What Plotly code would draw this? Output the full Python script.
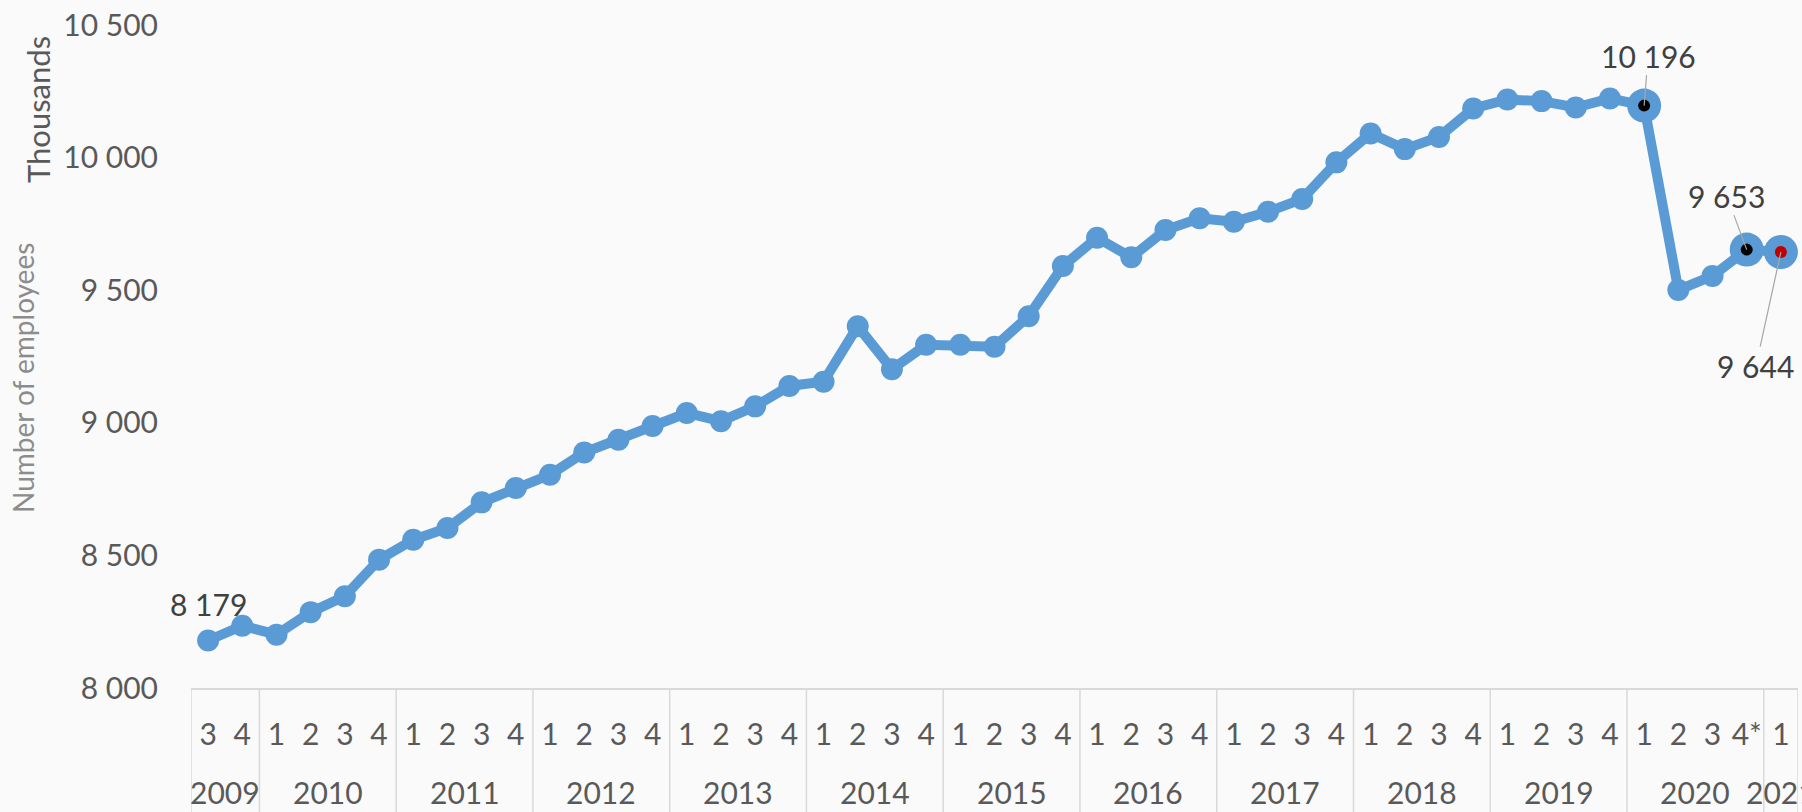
import plotly.graph_objects as go

# ---- data ----
quarter_labels = ["3", "4",
                  "1", "2", "3", "4",   # 2010
                  "1", "2", "3", "4",   # 2011
                  "1", "2", "3", "4",   # 2012
                  "1", "2", "3", "4",   # 2013
                  "1", "2", "3", "4",   # 2014
                  "1", "2", "3", "4",   # 2015
                  "1", "2", "3", "4",   # 2016
                  "1", "2", "3", "4",   # 2017
                  "1", "2", "3", "4",   # 2018
                  "1", "2", "3", "4",   # 2019
                  "1", "2", "3", "4*",  # 2020
                  "1"]                  # 2021
year_labels = ["2009", "2010", "2011", "2012", "2013", "2014", "2015",
               "2016", "2017", "2018", "2019", "2020", "2021"]
quarters_per_year = [2, 4, 4, 4, 4, 4, 4, 4, 4, 4, 4, 4, 1]

employees = [8179, 8235, 8201, 8286, 8346, 8484, 8559, 8603, 8700, 8754,
             8804, 8888, 8936, 8988, 9037, 9006, 9062, 9139, 9155, 9364,
             9202, 9294, 9294, 9287, 9402, 9591, 9698, 9624, 9727, 9771,
             9758, 9796, 9844, 9982, 10091, 10032, 10078, 10185, 10219, 10213,
             10189, 10223, 10196, 9501, 9554, 9653, 9644]

highlight_idx = [42, 45, 46]
highlight_inner = ["#000000", "#000000", "#C00000"]

# labelled points: index, (ax, ay) offset of label (None = plain label above)
label_points = [(0, None), (42, (4, -50)), (45, (-20, -54)), (46, (-25, 114))]

y_ticks = [8000, 8500, 9000, 9500, 10000, 10500]

# ---- style ----
BLUE = "#5B9BD5"
FONT = "Lato"
W, H = 1802, 812
ML, MR, MT, MB = 191, 4, 25, 124
plot_h = H - MT - MB
plot_w = W - ML - MR

def fmt(v):
    return f"{v:,}".replace(",", " ")

x = list(range(len(employees)))

fig = go.Figure()
fig.add_trace(go.Scatter(
    x=x, y=employees, mode="lines+markers",
    line=dict(color=BLUE, width=10),
    marker=dict(color=BLUE, size=22),
    hoverinfo="skip", showlegend=False, cliponaxis=False))
fig.add_trace(go.Scatter(
    x=highlight_idx, y=[employees[i] for i in highlight_idx], mode="markers",
    marker=dict(color=BLUE, size=34), showlegend=False, cliponaxis=False))
fig.add_trace(go.Scatter(
    x=highlight_idx, y=[employees[i] for i in highlight_idx], mode="markers",
    marker=dict(color=highlight_inner, size=12), showlegend=False, cliponaxis=False))

annotations = []
for idx, off in label_points:
    if off is None:
        annotations.append(dict(x=idx, y=employees[idx], xref="x", yref="y",
                                text=fmt(employees[idx]), showarrow=False,
                                yanchor="middle", yshift=37,
                                font=dict(family=FONT, size=30, color="#404040")))
    else:
        annotations.append(dict(x=idx, y=employees[idx], xref="x", yref="y",
                                text=fmt(employees[idx]), showarrow=True,
                                arrowhead=0, arrowwidth=1.2, arrowcolor="#A6A6A6",
                                ax=off[0], ay=off[1], standoff=0,
                                font=dict(family=FONT, size=30, color="#404040")))

# year labels and dividers
shapes = []
start = 0
bottom = -(H - MT - plot_h) / plot_h - 0.05
shapes.append(dict(type="line", xref="x", yref="paper", x0=-0.5, x1=-0.5,
                   y0=0, y1=bottom, line=dict(color="#D9D9D9", width=1.5)))
for lab, n in zip(year_labels, quarters_per_year):
    center = start + (n - 1) / 2
    annotations.append(dict(x=center, y=-(792 - (MT + plot_h)) / plot_h,
                            xref="x", yref="paper", text=lab, showarrow=False,
                            yanchor="middle", xanchor="center",
                            font=dict(family=FONT, size=30, color="#595959")))
    start += n
    shapes.append(dict(type="line", xref="x", yref="paper", x0=start - 0.5,
                       x1=start - 0.5, y0=0, y1=bottom,
                       line=dict(color="#D9D9D9", width=1.5)))

# axis titles
annotations.append(dict(x=(38 - ML) / plot_w, y=1 - (110 - MT) / plot_h,
                        xref="paper", yref="paper", text="Thousands",
                        showarrow=False, textangle=-90, xanchor="center",
                        yanchor="middle",
                        font=dict(family=FONT, size=31, color="#595959")))
annotations.append(dict(x=(23 - ML) / plot_w, y=1 - (378 - MT) / plot_h,
                        xref="paper", yref="paper", text="Number of employees",
                        showarrow=False, textangle=-90, xanchor="center",
                        yanchor="middle",
                        font=dict(family=FONT, size=28, color="#8C8C8C")))

fig.update_layout(
    width=W, height=H,
    margin=dict(l=ML, r=MR, t=MT, b=MB),
    paper_bgcolor="#FAFAFA", plot_bgcolor="#FAFAFA",
    separators=". ",
    annotations=annotations, shapes=shapes,
    xaxis=dict(range=[-0.5, len(employees) - 0.5], tickmode="array",
               tickvals=x, ticktext=quarter_labels, showgrid=False,
               zeroline=False, showline=True, linecolor="#D9D9D9", linewidth=1.5,
               ticks="", ticklabelstandoff=19,
               tickfont=dict(family=FONT, size=30, color="#595959")),
    yaxis=dict(range=[8000, 10500], tickmode="array", tickvals=y_ticks,
               tickformat=",d", showgrid=False, zeroline=False, showline=False,
               ticks="", ticklabelstandoff=32,
               tickfont=dict(family=FONT, size=30, color="#595959")),
)

fig.write_html("out.html", config={"displayModeBar": False},
               post_script="document.body.style.margin='0';")
